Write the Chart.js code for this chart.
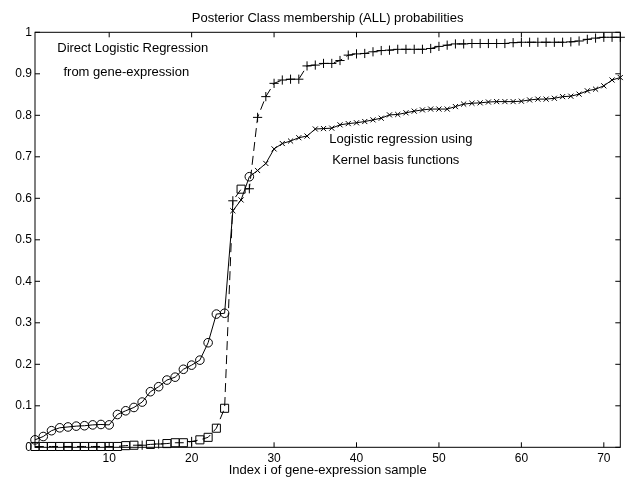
<!DOCTYPE html>
<html>
<head>
<meta charset="utf-8">
<script src="https://cdn.jsdelivr.net/npm/chart.js@4.4.0/dist/chart.umd.min.js"></script>
<style>
  body { margin: 0; background: #fff; }
</style>
</head>
<body>
<canvas id="postChart" width="627" height="478"></canvas>
<script>
// Sample index (sorted by posterior)
var sampleIndex = [];
for (var i = 1; i <= 72; i++) sampleIndex.push(i);

// Direct logistic regression from gene-expression (dashed)
var directProb = [0.002, 0.002, 0.002, 0.002, 0.002, 0.002, 0.002, 0.002, 0.002, 0.002,
                  0.002, 0.004, 0.005, 0.005, 0.007, 0.008, 0.009, 0.011, 0.011, 0.014,
                  0.018, 0.024, 0.046, 0.094, 0.594, 0.622, 0.623, 0.795, 0.845, 0.877,
                  0.885, 0.887, 0.887, 0.919, 0.921, 0.925, 0.925, 0.932, 0.945, 0.948,
                  0.949, 0.953, 0.956, 0.957, 0.959, 0.959, 0.959, 0.959, 0.961, 0.966,
                  0.969, 0.972, 0.972, 0.973, 0.973, 0.973, 0.973, 0.973, 0.975, 0.976,
                  0.976, 0.976, 0.976, 0.976, 0.976, 0.977, 0.979, 0.983, 0.986, 0.988,
                  0.988, 0.988];

// Logistic regression using kernel basis functions (solid)
var kernelProb = [0.018, 0.026, 0.040, 0.047, 0.049, 0.051, 0.052, 0.054, 0.055, 0.054,
                  0.079, 0.088, 0.096, 0.109, 0.134, 0.146, 0.162, 0.169, 0.188, 0.198,
                  0.210, 0.252, 0.321, 0.323, 0.570, 0.596, 0.652, 0.667, 0.684, 0.719,
                  0.732, 0.738, 0.746, 0.750, 0.767, 0.768, 0.769, 0.777, 0.780, 0.782,
                  0.785, 0.789, 0.793, 0.801, 0.802, 0.806, 0.810, 0.813, 0.815, 0.815,
                  0.815, 0.821, 0.827, 0.829, 0.830, 0.832, 0.833, 0.833, 0.833, 0.834,
                  0.837, 0.839, 0.839, 0.841, 0.845, 0.846, 0.851, 0.859, 0.863, 0.871,
                  0.885, 0.891];

// Samples of the AML class in each ordering (other samples are ALL)
var directAML = [1, 2, 3, 4, 5, 6, 7, 8, 9, 10, 11, 12, 13, 15, 17, 18, 19, 21, 22, 23, 24, 26];
var kernelAML = [1, 2, 3, 4, 5, 6, 7, 8, 9, 10, 11, 12, 13, 14, 15, 16, 17, 18, 19, 20, 21, 22, 23, 24, 27];

var xTicks = [10, 20, 30, 40, 50, 60, 70];
var yTicks = [0, 0.1, 0.2, 0.3, 0.4, 0.5, 0.6, 0.7, 0.8, 0.9, 1];

var notes = [
    { text: 'Direct Logistic Regression', x: 3.7, y: 0.962 },
    { text: 'from gene-expression', x: 4.45, y: 0.904 },
    { text: 'Logistic regression using', x: 36.7, y: 0.743 },
    { text: 'Kernel basis functions', x: 37.05, y: 0.692 }
];

var FONT = "'Liberation Sans', Arial, sans-serif";

function toPoints(vals) {
    return vals.map(function (v, k) { return { x: sampleIndex[k], y: v }; });
}

var directStyle = sampleIndex.map(function (n) { return directAML.indexOf(n) >= 0 ? 'rect' : 'cross'; });
var directRadius = sampleIndex.map(function (n) { return directAML.indexOf(n) >= 0 ? 5.7 : 4.6; });
var kernelStyle = sampleIndex.map(function (n) { return kernelAML.indexOf(n) >= 0 ? 'circle' : 'crossRot'; });
var kernelRadius = sampleIndex.map(function (n) { return kernelAML.indexOf(n) >= 0 ? 4.3 : 3.6; });

// box, inward ticks and the text notes
var framePlugin = {
    id: 'frame',
    afterDraw: function (chart) {
        var ctx = chart.ctx, a = chart.chartArea;
        var xs = chart.scales.x, ys = chart.scales.y;
        ctx.save();
        ctx.strokeStyle = '#000';
        ctx.lineWidth = 1;
        ctx.strokeRect(a.left, a.top, a.right - a.left, a.bottom - a.top);
        ctx.beginPath();
        xTicks.forEach(function (t) {
            var px = xs.getPixelForValue(t);
            ctx.moveTo(px, a.bottom); ctx.lineTo(px, a.bottom - 5);
            ctx.moveTo(px, a.top); ctx.lineTo(px, a.top + 5);
        });
        yTicks.forEach(function (t) {
            var py = ys.getPixelForValue(t);
            ctx.moveTo(a.left, py); ctx.lineTo(a.left + 5, py);
            ctx.moveTo(a.right, py); ctx.lineTo(a.right - 5, py);
        });
        ctx.stroke();
        ctx.fillStyle = '#000';
        ctx.font = '13px ' + FONT;
        ctx.textBaseline = 'middle';
        ctx.textAlign = 'left';
        notes.forEach(function (n) {
            ctx.fillText(n.text, xs.getPixelForValue(n.x), ys.getPixelForValue(n.y));
        });
        ctx.restore();
    }
};

var ctx = document.getElementById('postChart');

var postChart = new Chart(ctx, {
    type: 'line',
    data: {
        datasets: [
            {
                label: 'Direct',
                data: toPoints(directProb),
                borderColor: '#000',
                borderWidth: 1,
                borderDash: [9, 5],
                pointStyle: directStyle,
                pointRadius: directRadius,
                pointBorderColor: '#000',
                pointBackgroundColor: 'rgba(0,0,0,0)',
                pointBorderWidth: 1,
                tension: 0,
                fill: false,
                clip: false
            },
            {
                label: 'Kernel',
                data: toPoints(kernelProb),
                borderColor: '#000',
                borderWidth: 1,
                pointStyle: kernelStyle,
                pointRadius: kernelRadius,
                pointBorderColor: '#000',
                pointBackgroundColor: 'rgba(0,0,0,0)',
                pointBorderWidth: 1,
                tension: 0,
                fill: false,
                clip: false
            }
        ]
    },
    options: {
        responsive: false,
        animation: false,
        events: [],
        layout: { padding: { left: 0, right: 0.6, top: 0, bottom: 0 } },
        plugins: {
            legend: { display: false },
            tooltip: { enabled: false },
            title: {
                display: true,
                text: 'Posterior Class membership (ALL) probabilities',
                color: '#000',
                fullSize: false,
                font: { family: FONT, size: 13, weight: 'normal' },
                padding: { top: 10.5, bottom: 6.2 }
            }
        },
        scales: {
            x: {
                type: 'linear',
                min: 1,
                max: 72,
                grid: { display: false, drawTicks: false },
                border: { display: false },
                afterBuildTicks: function (s) { s.ticks = xTicks.map(function (v) { return { value: v }; }); },
                afterFit: function (s) { s.height = 30.7; },
                ticks: {
                    color: '#000',
                    padding: 4.5,
                    maxRotation: 0,
                    font: { family: FONT, size: 12 }
                },
                title: {
                    display: true,
                    text: 'Index i of gene-expression sample',
                    color: '#000',
                    font: { family: FONT, size: 13 },
                    padding: { top: 0, bottom: 0 }
                }
            },
            y: {
                min: 0,
                max: 1,
                grid: { display: false, drawTicks: false },
                border: { display: false },
                afterBuildTicks: function (s) { s.ticks = yTicks.map(function (v) { return { value: v }; }); },
                afterFit: function (s) { s.width = 35; },
                ticks: {
                    color: '#000',
                    padding: 3,
                    font: { family: FONT, size: 12 },
                    callback: function (v) { return String(Math.round(v * 10) / 10); }
                }
            }
        }
    },
    plugins: [framePlugin]
});
</script>
</body>
</html>
